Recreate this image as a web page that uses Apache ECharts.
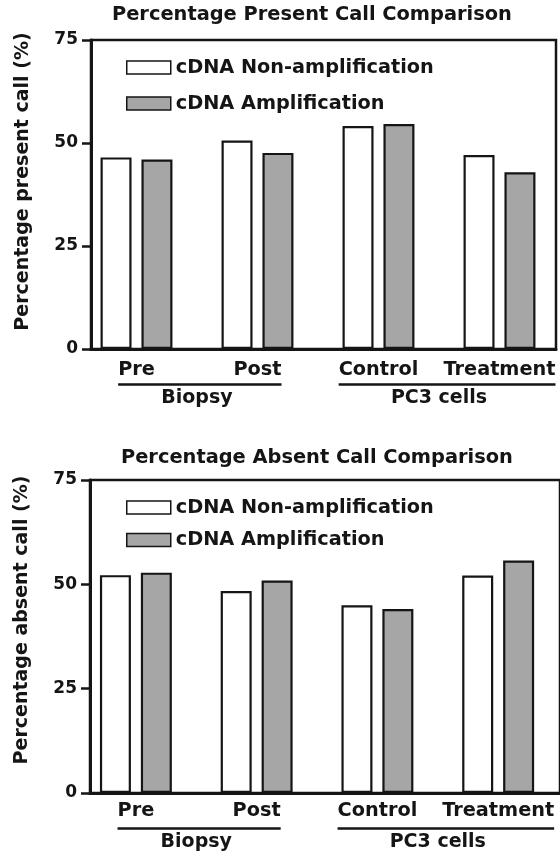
<!DOCTYPE html>
<html>
<head>
<meta charset="utf-8">
<script src="https://cdn.jsdelivr.net/npm/echarts@6/dist/echarts.min.js"></script>
<style>
html,body{margin:0;padding:0;background:#fff;}
#chart{width:560px;height:857px;}
</style>
</head>
<body>
<div id="chart"></div>
<script>
// ---- data ----
const categories = ['Pre', 'Post', 'Control', 'Treatment'];
const groups = [
  { name: 'Biopsy', from: 0, to: 1 },
  { name: 'PC3 cells', from: 2, to: 3 }
];
const seriesNames = ['cDNA Non-amplification', 'cDNA Amplification'];
const presentNonAmp = [46.5, 50.6, 54.1, 47.1];
const presentAmp = [46.0, 47.6, 54.6, 42.9];
const absentNonAmp = [52.2, 48.4, 45.0, 52.1];
const absentAmp = [52.8, 50.9, 44.1, 55.7];
const yTicks = [0, 25, 50, 75];
const titles = ['Percentage Present Call Comparison', 'Percentage Absent Call Comparison'];
const yNames = ['Percentage present call (%)', 'Percentage absent call (%)'];

// ---- style ----
const FONT = '"DejaVu Sans", "Liberation Sans", Arial, sans-serif';
const INK = '#151515';
const GRAY = '#a6a6a6';

const chart = echarts.init(document.getElementById('chart'), null, { renderer: 'canvas' });

function xAxisFor(g, min, max, margin) {
  return {
    type: 'value', gridIndex: g, min: min, max: max,
    axisLine: { show: true, onZero: false, lineStyle: { color: INK, width: 3 } },
    axisTick: { show: false },
    splitLine: { show: false },
    axisLabel: {
      customValues: categories.map((c, i) => i),
      formatter: v => categories[Math.round(v)] || '',
      color: INK, fontFamily: FONT, fontWeight: 'bold', fontSize: 19.3, margin: margin
    }
  };
}
function yAxisFor(g, name, namePad) {
  return {
    type: 'value', gridIndex: g, min: 0, max: 75, interval: 25,
    name: name, nameLocation: 'middle', nameGap: 58,
    nameTextStyle: { color: INK, fontFamily: FONT, fontWeight: 'bold', fontSize: 19, padding: [0, 0, 0, namePad] },
    axisLine: { show: true, onZero: false, lineStyle: { color: INK, width: 3 } },
    axisTick: { show: true, length: 9, lineStyle: { color: INK, width: 2.5 } },
    splitLine: { show: false },
    axisLabel: {
      customValues: yTicks,
      color: INK, fontFamily: FONT, fontWeight: 'bold', fontSize: 17, margin: 13
    }
  };
}
function barSeries(g, name, data, fill) {
  return {
    type: 'bar', name: name, xAxisIndex: g, yAxisIndex: g,
    data: data.map((v, i) => [i, v]),
    barWidth: 31, barGap: '32%',
    itemStyle: { color: fill, borderColor: INK, borderWidth: 2.2 },
    emphasis: { disabled: true },
    animation: false
  };
}
function legendFor(top, gap) {
  return {
    data: seriesNames, orient: 'vertical', left: 121, top: top,
    icon: 'rect', itemWidth: 44, itemHeight: 13, itemGap: gap,
    itemStyle: { borderColor: INK, borderWidth: 1.5 },
    textStyle: { color: INK, fontFamily: FONT, fontWeight: 'bold', fontSize: 19.3 },
    selectedMode: false
  };
}

const option = {
  animation: false,
  backgroundColor: '#fff',
  title: [
    { text: titles[0], left: 112, top: 5, padding: 0,
      textStyle: { color: INK, fontFamily: FONT, fontWeight: 'bold', fontSize: 19.4 } },
    { text: titles[1], left: 121, top: 448, padding: 0,
      textStyle: { color: INK, fontFamily: FONT, fontWeight: 'bold', fontSize: 19.4 } }
  ],
  legend: [legendFor(53, 17), legendFor(493, 13.5)],
  grid: [
    { left: 91, right: 4, top: 40, bottom: 508, show: true, borderColor: INK, borderWidth: 2.5, backgroundColor: 'transparent' },
    { left: 90, right: -6, top: 480, bottom: 64, show: true, borderColor: INK, borderWidth: 2.5, backgroundColor: 'transparent' }
  ],
  xAxis: [xAxisFor(0, -0.376, 3.467, 11), xAxisFor(1, -0.380, 3.512, 8)],
  yAxis: [yAxisFor(0, yNames[0], 26), yAxisFor(1, yNames[1], 33)],
  series: [
    barSeries(0, seriesNames[0], presentNonAmp, '#ffffff'),
    barSeries(0, seriesNames[1], presentAmp, GRAY),
    barSeries(1, seriesNames[0], absentNonAmp, '#ffffff'),
    barSeries(1, seriesNames[1], absentAmp, GRAY)
  ]
};
chart.setOption(option);

// group brackets under category labels, positioned via the axes
const ctx = document.createElement('canvas').getContext('2d');
ctx.font = 'bold 19.3px ' + FONT;
const graphics = [];
[0, 1].forEach(g => {
  groups.forEach(gr => {
    const p0 = chart.convertToPixel({ gridIndex: g }, [gr.from, 0]);
    const p1 = chart.convertToPixel({ gridIndex: g }, [gr.to, 0]);
    const w0 = ctx.measureText(categories[gr.from]).width;
    const w1 = ctx.measureText(categories[gr.to]).width;
    const x0 = p0[0] - w0 / 2;
    const x1 = p1[0] + w1 / 2;
    const yLine = p0[1] + 35.5;
    graphics.push({
      type: 'line', silent: true,
      shape: { x1: x0, y1: yLine, x2: x1, y2: yLine },
      style: { stroke: INK, lineWidth: 2.5 }
    });
    graphics.push({
      type: 'text', silent: true,
      x: (p0[0] + p1[0]) / 2, y: p0[1] + 49.5,
      style: { text: gr.name, fill: INK, font: 'bold 19px ' + FONT, align: 'center', verticalAlign: 'middle' }
    });
  });
});
chart.setOption({ graphic: graphics });
</script>
</body>
</html>
